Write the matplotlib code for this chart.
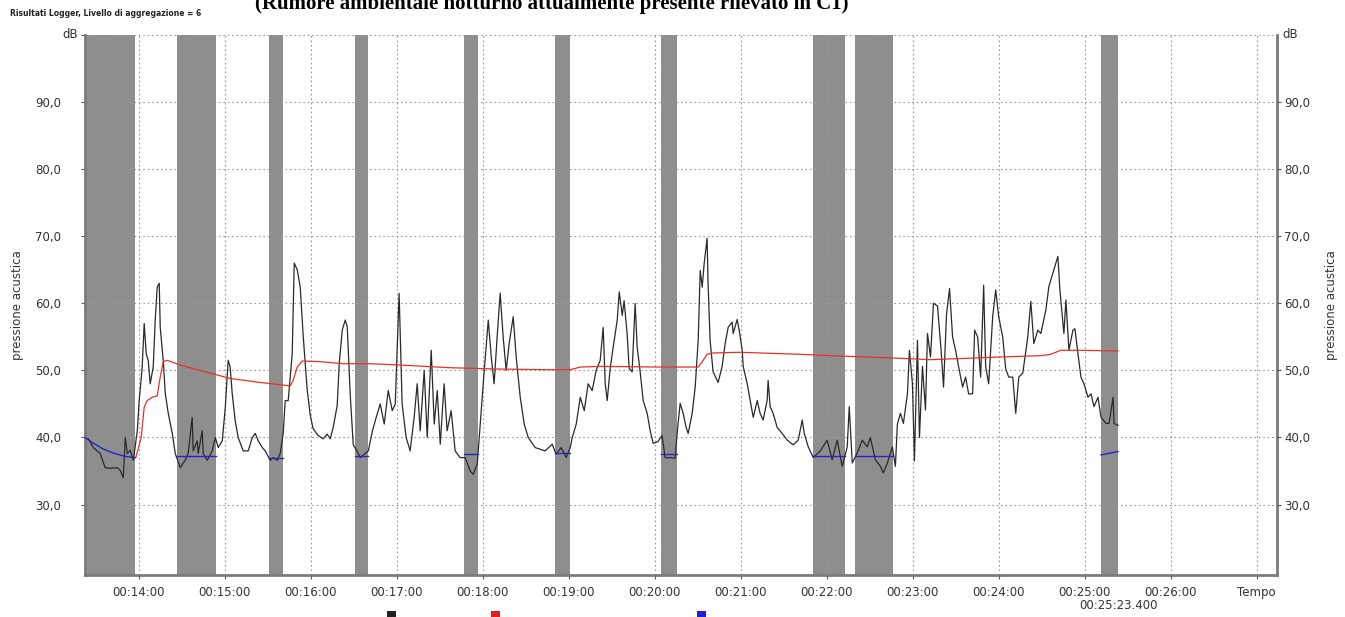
import numpy as np
import matplotlib.pyplot as plt
from matplotlib.patches import Rectangle

# livello misurato: tempo in secondi da 00:00:00, livello in dB
t_liv = [804.8, 808.3, 813.1, 816.6, 820.1, 825.0, 827.1, 829.2, 830.6, 832.0,
         834.1, 836.2, 839.0, 840.3, 842.4, 843.8, 845.2, 846.6, 848.0, 850.1,
         851.5, 852.9, 854.3, 855.0, 857.1, 858.5, 860.6, 863.4, 865.5, 869.0,
         872.4, 874.5, 877.3, 878.0, 880.8, 881.5, 884.3, 885.0, 887.8, 891.3,
         893.4, 895.5, 898.3, 900.4, 902.4, 903.8, 905.2, 907.3, 909.4, 912.9,
         916.4, 919.2, 921.3, 923.4, 926.2, 928.3, 931.7, 933.8, 936.6, 938.7,
         940.8, 942.2, 944.3, 947.1, 948.5, 950.6, 952.7, 954.8, 957.6, 959.7,
         961.7, 965.2, 968.7, 971.5, 973.6, 975.7, 978.5, 979.9, 982.0, 984.1,
         985.5, 987.6, 989.7, 992.5, 994.6, 997.4, 1000.2, 1003.1, 1005.7, 1008.5,
         1011.3, 1014.1, 1016.9, 1019.0, 1021.7, 1023.8, 1026.6, 1029.4, 1032.2, 1034.3,
         1036.4, 1039.2, 1041.3, 1044.1, 1046.2, 1048.3, 1050.4, 1053.1, 1055.2, 1058.0,
         1060.8, 1064.3, 1067.8, 1071.3, 1073.4, 1076.2, 1078.3, 1081.1, 1083.9, 1086.0,
         1088.0, 1090.1, 1092.2, 1094.3, 1096.4, 1098.5, 1101.3, 1103.4, 1106.2, 1109.0,
         1111.8, 1116.6, 1123.6, 1128.5, 1131.3, 1134.8, 1138.3, 1141.1, 1142.5, 1145.3,
         1148.1, 1150.9, 1153.6, 1156.4, 1159.2, 1162.0, 1164.1, 1165.5, 1166.9, 1169.0,
         1171.1, 1173.9, 1175.3, 1177.4, 1178.7, 1180.8, 1182.2, 1184.3, 1186.4, 1187.8,
         1189.9, 1192.0, 1194.8, 1196.9, 1199.0, 1202.4, 1205.2, 1207.3, 1210.8, 1214.3,
         1215.7, 1217.8, 1219.9, 1222.0, 1223.4, 1226.2, 1228.3, 1230.4, 1231.8, 1233.2,
         1234.6, 1236.6, 1237.3, 1238.7, 1240.8, 1244.3, 1247.1, 1249.2, 1251.3, 1254.1,
         1254.8, 1257.6, 1259.0, 1261.1, 1261.8, 1264.6, 1266.7, 1268.8, 1271.6, 1273.6,
         1275.7, 1278.5, 1279.2, 1280.6, 1282.7, 1285.5, 1289.0, 1292.5, 1296.7, 1300.2,
         1303.0, 1304.4, 1307.2, 1310.7, 1315.6, 1320.4, 1323.9, 1327.4, 1330.9, 1334.4,
         1335.8, 1337.9, 1341.4, 1344.9, 1348.4, 1350.5, 1354.0, 1357.5, 1359.6, 1362.4,
         1365.9, 1368.0, 1369.4, 1371.5, 1373.6, 1376.4, 1377.8, 1379.9, 1381.3, 1383.4,
         1384.8, 1386.9, 1389.0, 1390.4, 1392.5, 1394.6, 1397.4, 1399.9, 1401.6, 1403.7,
         1405.8, 1407.9, 1410.0, 1412.1, 1414.9, 1417.0, 1419.1, 1421.9, 1423.3, 1425.4,
         1427.5, 1429.6, 1431.0, 1433.1, 1435.9, 1438.0, 1440.1, 1442.9, 1445.0, 1447.1,
         1449.9, 1452.0, 1454.1, 1456.9, 1460.4, 1462.5, 1464.6, 1467.4, 1469.5, 1473.0,
         1475.1, 1478.6, 1481.4, 1482.8, 1485.6, 1487.0, 1489.1, 1491.9, 1493.3, 1495.4,
         1497.5, 1499.6, 1502.4, 1504.5, 1506.6, 1509.4, 1511.5, 1515.0, 1517.1, 1519.9,
         1520.6, 1523.4]
liv = [39.8, 38.5, 37.6, 35.5, 35.4, 35.5, 35.1, 34.0, 40.0, 37.6,
       38.1, 36.6, 41.0, 45.5, 50.4, 57.0, 52.5, 51.5, 48.0, 50.5,
       57.5, 62.4, 63.0, 56.4, 51.5, 46.6, 43.6, 40.6, 37.6, 35.5,
       36.6, 37.6, 43.0, 38.0, 39.5, 37.6, 41.0, 37.6, 36.6, 38.0,
       40.0, 38.5, 39.5, 44.5, 51.5, 50.5, 46.6, 42.5, 40.0, 38.0,
       38.0, 40.0, 40.6, 39.5, 38.5, 38.0, 36.6, 37.0, 36.6, 37.6,
       40.6, 45.5, 45.5, 52.5, 66.0, 65.0, 62.4, 55.0, 47.0, 43.3,
       41.3, 40.3, 39.8, 40.5, 39.8, 41.5, 44.8, 51.0, 56.0, 57.5,
       56.5, 46.3, 38.9, 37.9, 37.0, 37.5, 38.0, 41.0, 43.0, 45.0,
       42.0, 47.0, 44.0, 45.0, 61.5, 45.0, 40.0, 38.0, 43.0, 48.0,
       41.0, 50.0, 40.0, 53.0, 42.0, 47.0, 39.0, 48.0, 41.0, 44.0,
       38.0, 37.0, 37.0, 35.0, 34.5, 36.0, 42.0, 50.0, 57.5, 52.0,
       48.0, 55.0, 61.5, 55.0, 50.0, 54.0, 58.0, 52.0, 46.0, 42.0,
       40.0, 38.5, 38.0, 39.0, 37.5, 38.5, 37.0, 38.5, 40.0, 42.0,
       46.0, 44.0, 48.0, 47.0, 50.0, 51.5, 56.4, 48.0, 45.5, 50.3,
       53.5, 57.5, 61.7, 58.2, 60.4, 55.5, 50.3, 49.8, 60.0, 53.5,
       49.8, 45.5, 43.6, 41.0, 39.1, 39.4, 40.3, 37.0, 37.0, 36.9,
       40.6, 45.1, 43.6, 41.5, 40.6, 43.6, 47.5, 54.5, 64.9, 62.4,
       66.0, 69.7, 62.9, 54.5, 49.8, 48.2, 50.6, 54.0, 56.4, 57.2,
       55.5, 57.6, 56.0, 53.0, 50.6, 48.0, 45.5, 43.0, 45.5, 43.6,
       42.6, 45.5, 48.5, 44.6, 43.6, 41.5, 40.6, 39.6, 38.9, 39.6,
       42.6, 40.6, 38.6, 37.0, 38.0, 39.6, 36.7, 39.6, 35.7, 38.6,
       44.6, 36.2, 37.7, 39.6, 38.6, 40.0, 36.7, 35.7, 34.7, 36.2,
       38.6, 35.7, 42.0, 43.6, 42.1, 46.5, 53.0, 48.0, 36.5, 54.5,
       40.0, 50.6, 44.1, 55.5, 52.0, 60.0, 59.6, 53.0, 47.5, 58.4,
       62.2, 55.0, 53.0, 50.6, 47.5, 49.0, 46.5, 46.5, 56.0, 55.0,
       49.0, 62.7, 50.6, 48.0, 58.0, 62.0, 58.0, 55.0, 50.2, 49.0,
       49.0, 43.6, 49.0, 49.6, 55.0, 60.3, 54.0, 56.0, 55.5, 59.0,
       62.5, 65.0, 67.0, 62.0, 55.5, 60.5, 53.0, 56.0, 56.2, 52.5,
       49.0, 48.0, 46.0, 46.5, 44.6, 46.0, 43.0, 42.1, 42.1, 46.0,
       42.1, 41.8]

# Leq progressivo (linea rossa)
t_leq = [838.0, 841.7, 843.8, 845.9, 849.4, 852.9, 855.0, 857.1, 859.9, 869.0,
         882.9, 903.8, 924.8, 945.7, 947.8, 950.6, 954.1, 966.6, 982.7, 1001.5,
         1022.4, 1057.3, 1092.2, 1127.1, 1141.1, 1148.1, 1162.0, 1203.8, 1230.4, 1233.9,
         1236.6, 1240.8, 1259.6, 1301.5, 1322.4, 1371.5, 1392.5, 1441.3, 1469.5, 1476.4,
         1483.4, 1497.5, 1523.4]
leq = [37.0, 40.0, 44.5, 45.5, 46.0, 46.2, 49.0, 51.3, 51.5, 50.8,
       50.0, 48.8, 48.2, 47.7, 48.5, 50.5, 51.4, 51.3, 51.0, 51.0,
       50.8, 50.4, 50.2, 50.1, 50.1, 50.5, 50.6, 50.5, 50.5, 51.5,
       52.4, 52.6, 52.7, 52.4, 52.2, 51.8, 51.6, 52.0, 52.2, 52.4,
       53.0, 53.0, 52.9]

# intervalli mascherati (secondi)
masc_ini = [802.5, 866.9, 931.0, 991.0, 1067.1, 1130.6, 1204.5, 1310.6, 1340.0, 1511.5]
masc_fine = [837.6, 894.1, 940.8, 1000.2, 1076.9, 1141.1, 1215.7, 1333.0, 1366.5, 1523.4]

# livello blu dentro i mascheramenti
t_blu = [[802.5, 808.0, 815.0, 822.0, 830.0, 837.6],
         [866.9, 894.1], [931.0, 940.8], [991.0, 1000.2], [1067.1, 1076.9],
         [1130.6, 1141.1], [1204.5, 1215.7], [1310.6, 1333.0], [1340.0, 1366.5],
         [1511.5, 1523.4]]
blu = [[40.0, 39.2, 38.3, 37.7, 37.2, 37.0],
       [37.2, 37.2], [37.0, 37.0], [37.3, 37.3], [37.6, 37.6],
       [37.7, 37.7], [37.5, 37.5], [37.3, 37.3], [37.3, 37.3],
       [37.4, 37.9]]

x_tick = [840, 900, 960, 1020, 1080, 1140, 1200, 1260, 1320, 1380, 1440, 1500, 1560, 1620]
x_lab = ['00:14:00', '00:15:00', '00:16:00', '00:17:00', '00:18:00', '00:19:00',
         '00:20:00', '00:21:00', '00:22:00', '00:23:00', '00:24:00', '00:25:00',
         '00:26:00', 'Tempo']
y_tick = [30, 40, 50, 60, 70, 80, 90]
t_fine = t_liv[-1]

W, H = 1345, 617
col_txt = '#333333'
fig = plt.figure(figsize=(W / 100, H / 100), dpi=100)
ax = fig.add_axes([85 / W, 1 - 575 / H, 1192 / W, 540 / H])

for a, b in zip(masc_ini, masc_fine):
    ax.axvspan(a, b, color='#8e8e8e', lw=0, zorder=1)

ax.plot(t_liv, liv, color='#2a2a2a', lw=0.9, zorder=3)
ax.plot(t_leq, leq, color='#e8302a', lw=0.9, zorder=4)
for tb, vb in zip(t_blu, blu):
    ax.plot(tb, vb, color='#2424c8', lw=1.0, zorder=4)

ax.set_xlim(802.5, 1634.3)
ax.set_ylim(19.5, 100)
ax.set_xticks(x_tick)
ax.set_xticklabels(x_lab)
y_lab = [f'{v:.1f}'.replace('.', ',') for v in y_tick]
ax.set_yticks(y_tick + [100])
ax.set_yticklabels(y_lab + [''])

ax.grid(True, color='#9a9a9a', ls=(0, (1.5, 2.5)), lw=0.8)
for s in ['left', 'bottom', 'right']:
    ax.spines[s].set_color('#7a7a7a')
    ax.spines[s].set_linewidth(2.0)
ax.spines['top'].set_visible(False)

ax.tick_params(axis='x', length=3, pad=5, labelsize=8.5, labelcolor=col_txt, color='#555555')
ax.tick_params(axis='y', length=3, pad=14, labelsize=8.5, labelcolor=col_txt, color='#555555')

# asse destro con le stesse etichette
ax2 = ax.twinx()
ax2.set_ylim(ax.get_ylim())
ax2.set_yticks(y_tick)
ax2.set_yticklabels(y_lab)
ax2.tick_params(axis='y', length=3, pad=2, labelsize=8.5, labelcolor=col_txt, color='#555555')
for s in ax2.spines.values():
    s.set_visible(False)

fig.text(70 / W, 1 - 35 / H, 'dB', ha='center', va='center', fontsize=8.5, color=col_txt)
fig.text(1290 / W, 1 - 35 / H, 'dB', ha='center', va='center', fontsize=8.5, color=col_txt)
fig.text(18 / W, 1 - 305 / H, 'pressione acustica', rotation=90, ha='center', va='center',
         fontsize=8.5, color=col_txt)
fig.text(1331 / W, 1 - 305 / H, 'pressione acustica', rotation=90, ha='center', va='center',
         fontsize=8.5, color=col_txt)

mm = int(t_fine // 60)
ss = t_fine - mm * 60
ax.annotate(f'00:{mm:02d}:{ss:06.3f}', xy=(t_fine, 0), xycoords=('data', 'axes fraction'),
            xytext=(0, -22), textcoords='offset points', ha='center', va='center',
            fontsize=8.5, color=col_txt)

fig.text(10 / W, 1 - 14 / H, 'Risultati Logger, Livello di aggregazione = 6',
         fontsize=5.5, fontweight='bold', color='#222222', va='center')
fig.text(255 / W, 1 - 9 / H, '(Rumore ambientale notturno attualmente presente rilevato in C1)',
         family='Liberation Serif', fontweight='bold', fontsize=15, va='baseline', ha='left')

# quadratini della legenda, tagliati dal bordo inferiore
for xq, cq in zip([387, 491, 697], ['#222222', '#e02020', '#2020d0']):
    fig.add_artist(Rectangle((xq / W, 0), 9 / W, 6 / H, transform=fig.transFigure,
                             facecolor=cq, edgecolor='none'))

fig.savefig('out.png', dpi=100)
